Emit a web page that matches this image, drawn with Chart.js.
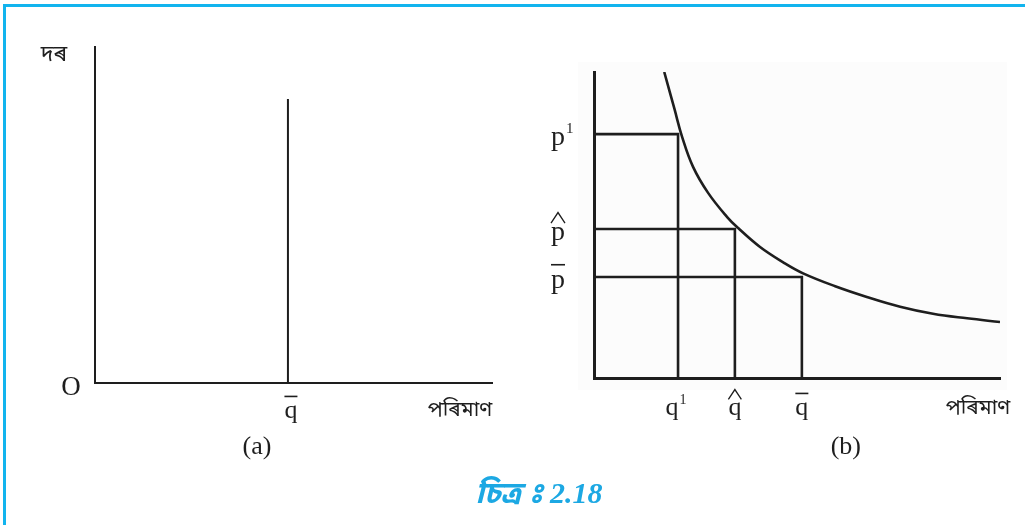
<!DOCTYPE html>
<html>
<head>
<meta charset="utf-8">
<script src="https://cdn.jsdelivr.net/npm/chart.js@4.4.1/dist/chart.umd.min.js"></script>
<style>
  html, body { margin: 0; padding: 0; background: #fff; }
  #page { position: relative; width: 1025px; height: 525px; overflow: hidden; }
  #frame { position: absolute; left: 3px; top: 4px; right: -10px; bottom: -10px;
           border-left: 3px solid #12b4ee; border-top: 3px solid #12b4ee; }
  canvas { position: absolute; left: 0; top: 0; }
  #caption { position: absolute; left: 0; width: 1078px; top: 475px; text-align: center;
             color: #1ca8e3; font: italic bold 30px "Liberation Serif", "Noto Sans Bengali", serif; }
</style>
</head>
<body>
<div id="page">
  <div id="frame"></div>
  <canvas id="chartA" width="1025" height="525"></canvas>
  <canvas id="chartB" width="1025" height="525"></canvas>
  <div id="caption">চিত্ৰ&nbsp;ঃ 2.18</div>
</div>
<script>
// --- panel (a): perfectly inelastic supply ---
const aXMax = 10;
const aYMax = 10;
const aQBar = 4.86;        // q̄
const aLineTop = 8.45;     // height of the vertical line

// --- panel (b): rectangular hyperbola ---
const bXMax = 10;
const bYMax = 10;
const bQ = [2.07, 3.47, 5.12];   // q¹, q̂, q̄
const bP = [7.97, 4.87, 3.30];   // p¹, p̂, p̄
const bMarks = ["sup", "hat", "bar"];
const curveX = [1.73, 1.98, 2.17, 2.44, 2.81, 3.28, 3.55, 4.09, 4.66, 5.15, 5.94, 6.72, 7.54, 8.35, 9.19, 10.0];
const curveY = [10.0, 8.80, 7.88, 6.90, 6.05, 5.26, 4.90, 4.28, 3.78, 3.42, 3.00, 2.65, 2.33, 2.10, 1.95, 1.83];

const SERIF = '"Liberation Serif", "DejaVu Serif", serif';
const BENGALI = '"Noto Sans Bengali", "Lohit Assamese", "Lohit Bengali", "FreeSerif", sans-serif';
const INK = "#1e1e1e";

// q / p with a mark: superscript 1, hat or bar
function symbol(ctx, base, mark, x, y, size) {
  ctx.save();
  ctx.fillStyle = INK;
  ctx.strokeStyle = INK;
  ctx.font = size + "px " + SERIF;
  ctx.textAlign = "center";
  ctx.textBaseline = "alphabetic";
  ctx.fillText(base, x, y);
  const w = ctx.measureText(base).width;
  if (mark === "bar") {
    ctx.fillRect(x - w / 2, y - size * 0.86, w, 1.6);
  } else if (mark === "hat") {
    ctx.lineWidth = 1.3;
    ctx.beginPath();
    ctx.moveTo(x - w / 2, y - size * 0.6);
    ctx.lineTo(x, y - size * 0.98);
    ctx.lineTo(x + w / 2, y - size * 0.6);
    ctx.stroke();
  } else if (mark === "sup") {
    ctx.font = Math.round(size * 0.55) + "px " + SERIF;
    ctx.textAlign = "left";
    ctx.fillText("1", x + w / 2 + 1, y - size * 0.42);
  }
  ctx.restore();
}

function text(ctx, str, x, y, font) {
  ctx.save();
  ctx.fillStyle = INK;
  ctx.font = font;
  ctx.textAlign = "center";
  ctx.textBaseline = "middle";
  ctx.fillText(str, x, y);
  ctx.restore();
}

function lineSet(points, width) {
  return {
    data: points,
    showLine: true,
    borderColor: INK,
    borderWidth: width,
    pointRadius: 0,
    fill: false,
    tension: 0,
  };
}

function axisOptions(max, width) {
  return {
    type: "linear",
    min: 0,
    max: max,
    grid: { display: false, drawTicks: false },
    ticks: { display: false },
    border: { display: true, color: INK, width: width },
  };
}

// labels for (a)
const labelsA = {
  id: "labelsA",
  afterDraw(chart) {
    const ctx = chart.ctx;
    const x = chart.scales.x, y = chart.scales.y;
    const left = x.getPixelForValue(0), bottom = y.getPixelForValue(0);
    text(ctx, "দৰ", left - 41, y.getPixelForValue(aYMax) + 10, "23px " + BENGALI);
    text(ctx, "O", left - 24, bottom + 5, "27px " + SERIF);
    symbol(ctx, "q", "bar", x.getPixelForValue(aQBar) + 3, bottom + 35, 26);
    text(ctx, "পৰিমাণ", x.getPixelForValue(aXMax) - 32, bottom + 29, "21px " + BENGALI);
    text(ctx, "(a)", x.getPixelForValue(aQBar) - 31, bottom + 64, "26px " + SERIF);
  },
};

// labels + faint scan background for (b)
const labelsB = {
  id: "labelsB",
  beforeDraw(chart) {
    const a = chart.chartArea;
    chart.ctx.save();
    chart.ctx.fillStyle = "#fcfcfc";
    chart.ctx.fillRect(a.left - 16, a.top - 10, a.right - a.left + 23, a.bottom - a.top + 22);
    chart.ctx.restore();
  },
  afterDraw(chart) {
    const ctx = chart.ctx;
    const x = chart.scales.x, y = chart.scales.y;
    const left = x.getPixelForValue(0), bottom = y.getPixelForValue(0);
    bP.forEach((p, i) => {
      symbol(ctx, "p", bMarks[i], left - 36, y.getPixelForValue(p) + 11, 28);
    });
    bQ.forEach((q, i) => {
      const dx = bMarks[i] === "sup" ? -6 : 0;
      symbol(ctx, "q", bMarks[i], x.getPixelForValue(q) + dx, bottom + 37, 26);
    });
    text(ctx, "পৰিমাণ", x.getPixelForValue(bXMax) - 22, bottom + 32, "21px " + BENGALI);
    text(ctx, "(b)", x.getPixelForValue(bQ[2]) + 44, bottom + 69, "26px " + SERIF);
  },
};

function baseOptions(padding, xMax, yMax, axisWidth) {
  return {
    responsive: false,
    animation: false,
    layout: { padding: padding },
    plugins: { legend: { display: false }, tooltip: { enabled: false } },
    scales: { x: axisOptions(xMax, axisWidth), y: axisOptions(yMax, axisWidth) },
  };
}

new Chart(document.getElementById("chartA"), {
  type: "scatter",
  data: {
    datasets: [lineSet([{ x: aQBar, y: 0 }, { x: aQBar, y: aLineTop }], 2)],
  },
  options: baseOptions({ left: 95, top: 47, right: 533, bottom: 142 }, aXMax, aYMax, 2),
  plugins: [labelsA],
});

const rectSets = bQ.map((q, i) =>
  lineSet([{ x: 0, y: bP[i] }, { x: q, y: bP[i] }, { x: q, y: 0 }], 2.6)
);
const curveSet = lineSet(curveX.map((v, i) => ({ x: v, y: curveY[i] })), 2.6);
curveSet.tension = 0.4;

new Chart(document.getElementById("chartB"), {
  type: "scatter",
  data: { datasets: [...rectSets, curveSet] },
  options: baseOptions({ left: 594, top: 72, right: 25, bottom: 147 }, bXMax, bYMax, 3),
  plugins: [labelsB],
});
</script>
</body>
</html>
